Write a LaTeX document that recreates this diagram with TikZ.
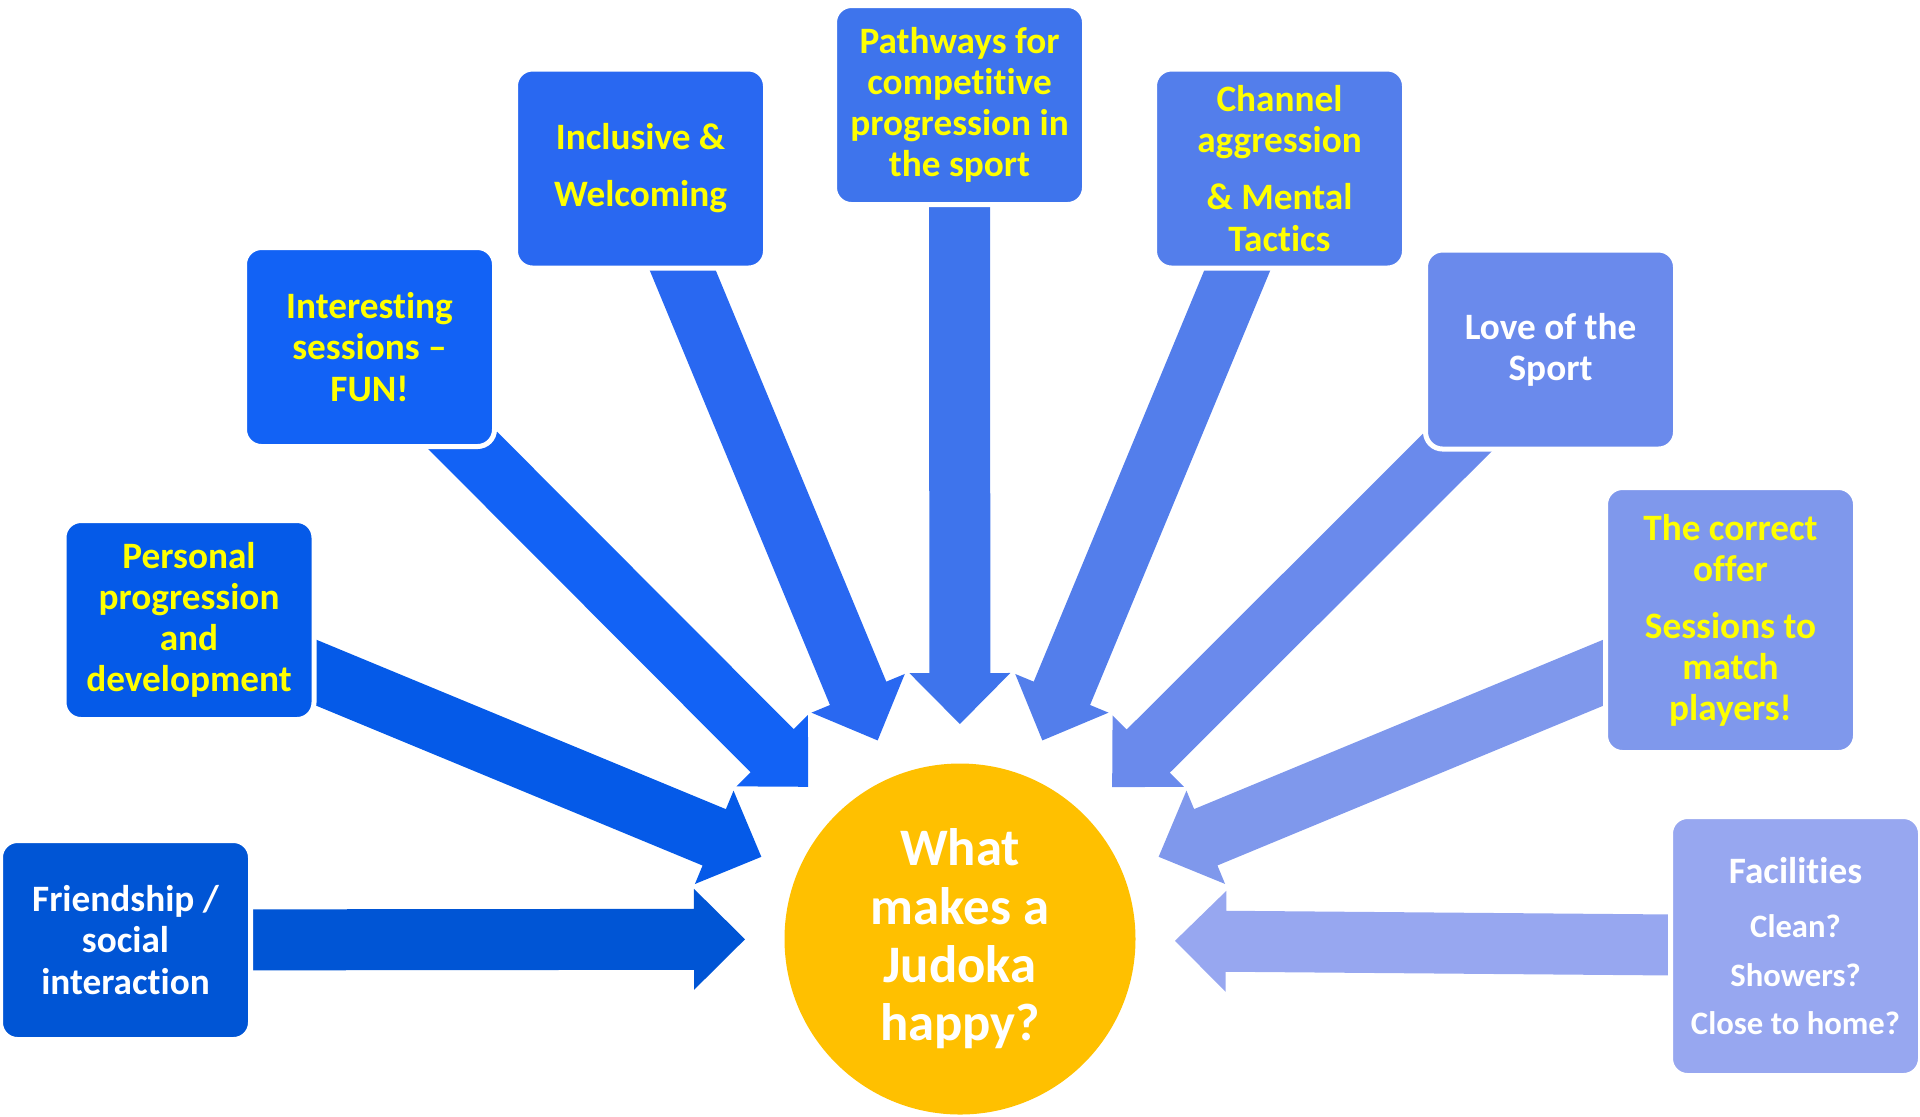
\documentclass[tikz,border=0pt]{standalone}
\usepackage{fontspec}
\setmainfont[Ligatures={TeX,NoCommon}]{Carlito}
\usetikzlibrary{calc,backgrounds}

\definecolor{cFri}{HTML}{0055D5}
\definecolor{cPer}{HTML}{055AE8}
\definecolor{cInt}{HTML}{1262F5}
\definecolor{cInc}{HTML}{2968F1}
\definecolor{cPat}{HTML}{3E74EC}
\definecolor{cCha}{HTML}{537EEB}
\definecolor{cLov}{HTML}{6A8AEC}
\definecolor{cOff}{HTML}{7F98EC}
\definecolor{cFac}{HTML}{97A7F0}
\definecolor{cHub}{HTML}{FFC000}
\definecolor{cYel}{HTML}{FFFF00}

\newcommand{\spoke}[2]{%
  \fill[#2] let \p1 = ($(#1)-(hub)$), \n1 = {atan2(\y1,\x1)} in
    [shift={(hub)}, rotate=\n1]
    (2.15,0) -- (2.66,0.505) -- (2.66,0.305) -- (8,0.305) -- (8,-0.305)
    -- (2.66,-0.305) -- (2.66,-0.505) -- cycle;
}
\newcommand{\subline}{\fontsize{9.3}{11.7}\selectfont}

\begin{document}
\begin{tikzpicture}[
    box/.style = {draw=white, line width=0.05cm, rounded corners=0.17cm,
      minimum width=2.5cm, minimum height=1.99cm, inner sep=0pt, align=center,
      font=\fontsize{10.6}{11.7}\selectfont\bfseries},
    hub/.style = {circle, fill=cHub, minimum size=3.51cm, inner sep=0pt,
      align=center, text=white, font=\fontsize{15}{16.6}\selectfont\bfseries}]
    \useasboundingbox (0,0) rectangle (19.2,-11.16);

    \node[hub] (hub) at (9.6,-9.39) {What\\makes a\\Judoka\\happy?};

    \node[box, fill=cFri, text=white] (fri) at (1.255,-9.40) {Friendship /\\social\\interaction};
    \node[box, fill=cPer, text=cYel] (per) at (1.89,-6.20) {Personal\\progression\\and\\development};
    \node[box, fill=cInt, text=cYel] (int) at (3.695,-3.47) {Interesting\\sessions –\\FUN!};
    \node[box, fill=cInc, text=cYel] (inc) at (6.405,-1.685) {Inclusive \&\\[4.5pt]Welcoming};
    \node[box, fill=cPat, text=cYel] (pat) at (9.595,-1.05) {Pathways for\\competitive\\progression in\\the sport};
    \node[box, fill=cCha, text=cYel] (cha) at (12.795,-1.685) {Channel\\aggression\\[4.5pt]\& Mental\\Tactics};
    \node[box, fill=cLov, text=white] (lov) at (15.505,-3.495) {Love of the\\Sport};
    \node[box, fill=cOff, text=cYel, minimum height=2.65cm] (off) at (17.305,-6.20) {The correct\\offer\\[4.5pt]Sessions to\\match\\players!};
    \node[box, fill=cFac, text=white, minimum height=2.59cm] (fac) at (17.955,-9.46)
      {Facilities\\[3.7pt]{\subline Clean?}\\[2pt]{\subline Showers?}\\[2pt]{\subline Close to home?}};

    \begin{pgfonlayer}{background}
      \spoke{fri}{cFri}
      \spoke{per}{cPer}
      \spoke{int}{cInt}
      \spoke{inc}{cInc}
      \spoke{pat}{cPat}
      \spoke{cha}{cCha}
      \spoke{lov}{cLov}
      \spoke{off}{cOff}
      \spoke{fac}{cFac}
    \end{pgfonlayer}
\end{tikzpicture}
\end{document}
